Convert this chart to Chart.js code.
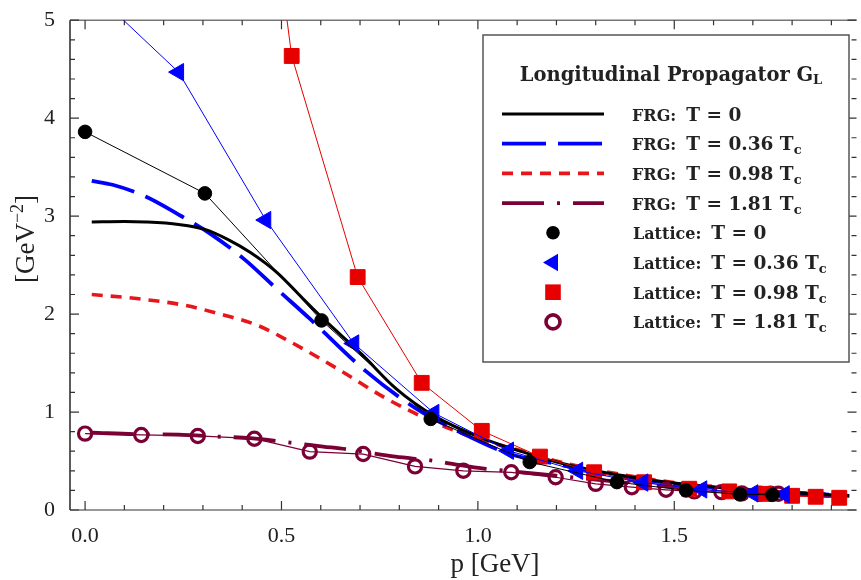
<!DOCTYPE html>
<html>
<head>
<meta charset="utf-8">
<script src="https://cdn.jsdelivr.net/npm/chart.js@4.4.1/dist/chart.umd.min.js"></script>
<style>
  html, body { margin: 0; padding: 0; background: #fff; overflow: hidden; }
  canvas { display: block; }
</style>
</head>
<body>
<canvas id="chart" width="861" height="580"></canvas>
<script>
// axis ranges and tick labels
const X_MIN = -0.0384, X_MAX = 1.9461;
const Y_MIN = 0, Y_MAX = 5;
const xTickValues = [0, 0.5, 1.0, 1.5];
const yTickValues = [0, 1, 2, 3, 4, 5];

// FRG curves (p in GeV, G_L in GeV^-2)
const frgT0P = [0.017, 0.1, 0.154, 0.238, 0.305, 0.363, 0.421, 0.488, 0.555, 0.606, 0.706, 0.79, 0.89, 1.007, 1.124, 1.2, 1.3, 1.4, 1.5, 1.6, 1.7, 1.8, 1.946];
const frgT0G = [2.94, 2.945, 2.94, 2.915, 2.865, 2.763, 2.628, 2.426, 2.156, 1.953, 1.583, 1.245, 0.958, 0.739, 0.58, 0.49, 0.40, 0.33, 0.275, 0.235, 0.2, 0.175, 0.145];
const frg036P = [0.017, 0.07, 0.154, 0.238, 0.321, 0.405, 0.488, 0.572, 0.714, 0.84, 0.957, 1.082, 1.2, 1.3, 1.4, 1.5, 1.6, 1.7, 1.8, 1.946];
const frg036G = [3.36, 3.32, 3.2, 3.016, 2.814, 2.561, 2.257, 1.953, 1.42, 1.043, 0.79, 0.571, 0.47, 0.385, 0.32, 0.27, 0.23, 0.2, 0.175, 0.145];
const frg098P = [0.017, 0.137, 0.254, 0.355, 0.438, 0.522, 0.647, 0.764, 0.873, 0.99, 1.124, 1.2, 1.3, 1.4, 1.5, 1.6, 1.7, 1.8, 1.946];
const frg098G = [2.2, 2.156, 2.089, 1.988, 1.887, 1.718, 1.431, 1.144, 0.925, 0.739, 0.59, 0.5, 0.41, 0.34, 0.28, 0.24, 0.205, 0.18, 0.15];
const frg181P = [0.017, 0.137, 0.238, 0.338, 0.421, 0.522, 0.606, 0.664, 0.79, 0.886, 0.95, 1.02, 1.1, 1.2, 1.3, 1.4, 1.5, 1.6, 1.7, 1.8, 1.946];
const frg181G = [0.79, 0.773, 0.77, 0.749, 0.733, 0.688, 0.648, 0.621, 0.545, 0.503, 0.46, 0.42, 0.39, 0.35, 0.31, 0.27, 0.235, 0.205, 0.18, 0.16, 0.135];

// lattice data
const latT0P = [0, 0.305, 0.602, 0.88, 1.132, 1.354, 1.53, 1.667, 1.75];
const latT0G = [3.86, 3.232, 1.935, 0.93, 0.49, 0.285, 0.2, 0.16, 0.155];
const lat036P = [0, 0.238, 0.46, 0.684, 0.888, 1.078, 1.254, 1.42, 1.57, 1.70, 1.78];
const lat036G = [5.37, 4.47, 2.96, 1.70, 0.99, 0.605, 0.40, 0.28, 0.21, 0.17, 0.16];
const lat098P = [0.358, 0.526, 0.694, 0.857, 1.01, 1.158, 1.296, 1.423, 1.538, 1.64, 1.73, 1.80, 1.86, 1.92];
const lat098G = [9.8, 4.635, 2.378, 1.298, 0.808, 0.545, 0.385, 0.283, 0.217, 0.19, 0.165, 0.145, 0.135, 0.125];
const lat181P = [0, 0.143, 0.287, 0.431, 0.572, 0.708, 0.84, 0.963, 1.085, 1.198, 1.30, 1.392, 1.479, 1.551, 1.62, 1.672, 1.718, 1.745, 1.765];
const lat181G = [0.78, 0.766, 0.756, 0.728, 0.596, 0.571, 0.445, 0.40, 0.385, 0.334, 0.267, 0.233, 0.206, 0.19, 0.182, 0.17, 0.166, 0.166, 0.166];

// legend text
const legendKinds = ["FRG:", "FRG:", "FRG:", "FRG:", "Lattice:", "Lattice:", "Lattice:", "Lattice:"];
const legendTemps = ["0", "0.36", "0.98", "1.81", "0", "0.36", "0.98", "1.81"];

const BLACK = "#000000", BLUE = "#0000ff", RED = "#e60000", MAROON = "#7b0035";
const SERIF = '"Liberation Serif", serif';
const LEG_FONT = '"DejaVu Serif", serif';

const pts = (xs, ys) => xs.map((x, i) => ({ x, y: ys[i] }));

const frgLine = (xs, ys, color, width, dash) => ({
  data: pts(xs, ys),
  showLine: true,
  borderColor: color,
  borderWidth: width,
  borderDash: dash,
  pointRadius: 0,
  cubicInterpolationMode: "monotone",
  order: 2,
});

const latLine = (xs, ys, color, style, radius, extra) => Object.assign({
  data: pts(xs, ys),
  showLine: true,
  borderColor: color,
  backgroundColor: color,
  borderWidth: 1,
  pointStyle: style,
  pointRadius: radius,
  pointBorderWidth: 1,
  pointBackgroundColor: color,
  pointBorderColor: color,
  order: 1,
}, extra || {});

const datasets = [
  latLine(latT0P, latT0G, BLACK, "circle", 6.8),
  latLine(lat036P, lat036G, BLUE, "triangle", 10, { pointRotation: -90 }),
  latLine(lat098P, lat098G, RED, "rect", 10.5),
  latLine(lat181P, lat181G, MAROON, "circle", 6.6, {
    pointBackgroundColor: "rgba(0,0,0,0)", pointBorderWidth: 3.2, borderWidth: 1.2,
  }),
  frgLine(frgT0P, frgT0G, BLACK, 3, []),
  frgLine(frg036P, frg036G, BLUE, 3.8, [44, 12]),
  frgLine(frg098P, frg098G, "#e8161b", 3.6, [11, 8]),
  frgLine(frg181P, frg181G, MAROON, 3.8, [42, 13, 3, 13]),
];

// frame with inward ticks on all four sides
const framePlugin = {
  id: "frame",
  beforeDatasetsDraw(chart) {
    const { ctx, chartArea: a, scales: { x, y } } = chart;
    const right = a.right + 7;
    ctx.save();
    ctx.lineWidth = 1.6;
    ctx.strokeStyle = "#777";
    ctx.beginPath();
    ctx.moveTo(a.left, a.top); ctx.lineTo(right, a.top);
    ctx.moveTo(a.left, a.bottom); ctx.lineTo(right, a.bottom);
    ctx.stroke();
    ctx.strokeStyle = "#333";
    ctx.beginPath();
    ctx.moveTo(a.left, a.top); ctx.lineTo(a.left, a.bottom);
    ctx.stroke();
    ctx.lineWidth = 1.2;
    ctx.beginPath();
    for (let i = 0; i <= 19; i++) {
      const px = x.getPixelForValue(i / 10);
      const len = i % 5 === 0 ? 9 : 5;
      ctx.moveTo(px, a.bottom); ctx.lineTo(px, a.bottom - len);
      ctx.moveTo(px, a.top); ctx.lineTo(px, a.top + len);
    }
    for (let i = 0; i <= 25; i++) {
      const py = y.getPixelForValue(i / 5);
      const len = i % 5 === 0 ? 9 : 5;
      ctx.moveTo(a.left, py); ctx.lineTo(a.left + len, py);
      ctx.moveTo(right, py); ctx.lineTo(right - len, py);
    }
    ctx.stroke();
    ctx.restore();
  },
};

// draws a run of text pieces, each with own font and vertical shift
function richWidth(ctx, parts) {
  return parts.reduce((w, p) => { ctx.font = p.font; return w + ctx.measureText(p.t).width + (p.gap || 0); }, 0);
}
function drawRich(ctx, parts, x, y) {
  parts.forEach((p) => {
    ctx.font = p.font;
    ctx.fillText(p.t, x, y + (p.dy || 0));
    x += ctx.measureText(p.t).width + (p.gap || 0);
  });
}

const titlePlugin = {
  id: "titles",
  afterDraw(chart) {
    const { ctx } = chart;
    ctx.save();
    ctx.fillStyle = "#222";
    ctx.textBaseline = "alphabetic";
    ctx.textAlign = "center";
    ctx.font = "27px " + SERIF;
    ctx.fillText("p [GeV]", 495, 572);

    const yParts = [
      { t: "[GeV", font: "27px " + SERIF },
      { t: "\u22122", font: "18px " + SERIF, dy: -11 },
      { t: "]", font: "27px " + SERIF },
    ];
    ctx.translate(33.5, 239);
    ctx.rotate(-Math.PI / 2);
    ctx.textAlign = "left";
    drawRich(ctx, yParts, -richWidth(ctx, yParts) / 2, 0);
    ctx.restore();
  },
};

function drawMarker(ctx, i, x, y) {
  ctx.beginPath();
  if (i === 0) {
    ctx.fillStyle = BLACK;
    ctx.arc(x, y, 6.8, 0, Math.PI * 2);
    ctx.fill();
  } else if (i === 1) {
    const r = 10;
    ctx.fillStyle = BLUE;
    ctx.moveTo(x - r, y);
    ctx.lineTo(x + r / 2, y - r * 0.866);
    ctx.lineTo(x + r / 2, y + r * 0.866);
    ctx.closePath();
    ctx.fill();
  } else if (i === 2) {
    ctx.fillStyle = RED;
    ctx.fillRect(x - 7.8, y - 7.8, 15.6, 15.6);
  } else {
    ctx.strokeStyle = MAROON;
    ctx.lineWidth = 3.6;
    ctx.arc(x, y, 7, 0, Math.PI * 2);
    ctx.stroke();
  }
}

const legendPlugin = {
  id: "boxLegend",
  afterDraw(chart) {
    const { ctx } = chart;
    const box = { l: 483, t: 35, w: 366, h: 327 };
    ctx.save();
    ctx.fillStyle = "#fff";
    ctx.fillRect(box.l, box.t, box.w, box.h);
    ctx.strokeStyle = "#555";
    ctx.lineWidth = 1.5;
    ctx.strokeRect(box.l, box.t, box.w, box.h);

    ctx.fillStyle = "#222";
    ctx.textAlign = "left";
    ctx.textBaseline = "alphabetic";
    const title = [
      { t: "Longitudinal Propagator G", font: "bold 19.5px " + LEG_FONT },
      { t: "L", font: "bold 13px " + LEG_FONT, dy: 3 },
    ];
    drawRich(ctx, title, 671 - richWidth(ctx, title) / 2, 81);

    for (let i = 0; i < 8; i++) {
      const cy = 114 + i * 29.7;
      const ds = datasets[i < 4 ? i + 4 : i - 4];
      if (i < 4) {
        ctx.save();
        ctx.strokeStyle = ds.borderColor;
        ctx.lineWidth = ds.borderWidth;
        ctx.setLineDash(ds.borderDash);
        ctx.beginPath();
        ctx.moveTo(502, cy);
        ctx.lineTo(604, cy);
        ctx.stroke();
        ctx.restore();
      } else {
        drawMarker(ctx, i - 4, 553, cy);
      }
      ctx.fillStyle = "#222";
      const parts = [{ t: legendKinds[i], font: "bold 16px " + LEG_FONT, gap: 10 }];
      if (legendTemps[i] === "0") {
        parts.push({ t: "T = 0", font: "bold 18.5px " + LEG_FONT });
      } else {
        parts.push({ t: "T = " + legendTemps[i] + " T", font: "bold 18.5px " + LEG_FONT });
        parts.push({ t: "c", font: "bold 13px " + LEG_FONT, dy: 4 });
      }
      drawRich(ctx, parts, i < 4 ? 632 : 633, cy + 6.5);
    }
    ctx.restore();
  },
};

Chart.defaults.font.family = SERIF;

new Chart(document.getElementById("chart"), {
  type: "scatter",
  data: { datasets },
  options: {
    responsive: false,
    animation: false,
    events: [],
    layout: { padding: { top: 16, right: 0, left: 0, bottom: 0 } },
    plugins: { legend: { display: false }, tooltip: { enabled: false } },
    scales: {
      x: {
        type: "linear",
        min: X_MIN,
        max: X_MAX,
        afterFit: (s) => { s.height = 70; },
        afterBuildTicks: (s) => { s.ticks = xTickValues.map((v) => ({ value: v })); },
        grid: { display: false },
        border: { display: false },
        ticks: {
          padding: 5, color: "#222", font: { size: 22 }, maxRotation: 0, autoSkip: false,
          callback: (v) => Number(v).toFixed(1),
        },
      },
      y: {
        type: "linear",
        min: Y_MIN,
        max: Y_MAX,
        afterFit: (s) => { s.width = 70; },
        afterBuildTicks: (s) => { s.ticks = yTickValues.map((v) => ({ value: v })); },
        grid: { display: false },
        border: { display: false },
        ticks: { padding: 7, color: "#222", font: { size: 22 }, autoSkip: false },
      },
    },
  },
  plugins: [framePlugin, titlePlugin, legendPlugin],
});
</script>
</body>
</html>
